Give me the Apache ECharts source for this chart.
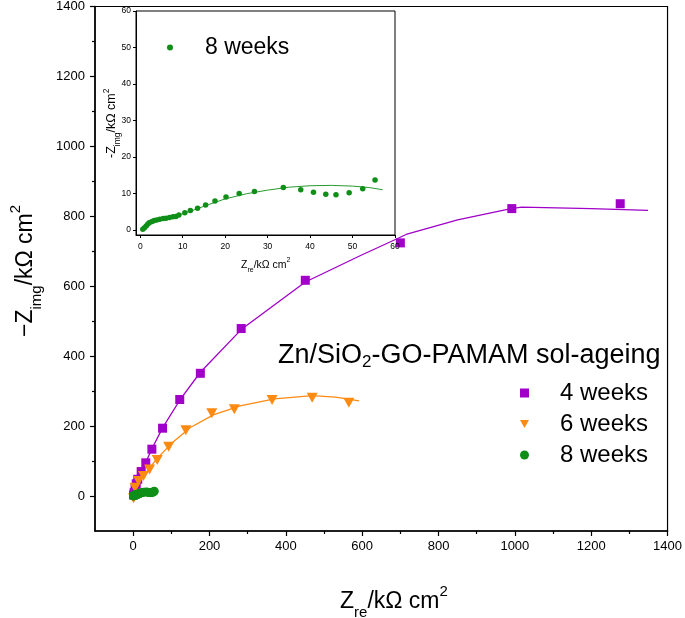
<!DOCTYPE html>
<html><head><meta charset="utf-8">
<script src="https://cdn.jsdelivr.net/npm/echarts@6/dist/echarts.min.js"></script>
<style>html,body{margin:0;padding:0;background:#fff}#c{width:685px;height:618px}</style>
</head><body><div id="c"></div>
<script>
// ---- data ----
const w4Zre  = [1, 2.5, 5, 8, 12, 21, 33, 49, 77, 122, 176, 283, 451, 700, 992, 1276];
const w4Zimg = [3, 10, 22, 35, 48, 70, 95, 134, 194, 276, 351, 479, 617, 724, 822, 836];
const w4FitZre  = [0, 5, 12, 21, 33, 49, 77, 122, 176, 283, 451, 600, 690, 715, 850, 990, 1018, 1200, 1349];
const w4FitZimg = [0, 22, 46, 70, 96, 135, 195, 274, 354, 476, 612, 690, 735, 748, 790, 822, 826, 822, 817];

const w6Zre  = [1, 5, 14, 27, 43, 63, 93, 138, 206, 265, 364, 469, 565];
const w6Zimg = [-6, 24, 43, 57, 76, 103, 141, 188, 237, 248, 275, 281, 267];
const w6FitZre  = [0, 10, 30, 60, 100, 150, 210, 280, 370, 470, 530, 592];
const w6FitZimg = [0, 33, 62, 104, 150, 196, 232, 258, 278, 287, 283, 272];

const w8Zre  = [0.6, 1.0, 1.4, 1.8, 2.2, 2.8, 3.3, 3.9, 4.6, 5.4, 6.1, 6.9, 7.7, 8.4, 9.1, 10.5, 11.8, 13.5, 15.4, 17.6, 20.2, 23.3, 26.9, 33.7, 37.8, 40.8, 43.7, 46.1, 49.2, 52.4, 55.3];
const w8Zimg = [0.2, 0.6, 1.1, 1.6, 2.0, 2.3, 2.6, 2.7, 2.9, 3.1, 3.2, 3.4, 3.6, 3.7, 4.1, 4.7, 5.3, 5.9, 6.8, 7.9, 9.0, 10.0, 10.5, 11.6, 11.0, 10.3, 9.8, 9.6, 10.2, 11.3, 13.7];
const w8FitZre  = [0.6, 2, 4, 8, 12, 16, 20, 25, 30, 35, 40, 45, 50, 54, 57.1];
const w8FitZimg = [0.3, 1.9, 2.8, 3.7, 5.2, 6.9, 8.5, 9.9, 10.9, 11.7, 12.1, 12.2, 12.0, 11.6, 11.0];

const seriesNames = ['4 weeks', '6 weeks', '8 weeks'];
const mainXTicks = [0, 200, 400, 600, 800, 1000, 1200, 1400];
const mainXMinor = [100, 300, 500, 700, 900, 1100, 1300];
const mainYTicks = [0, 200, 400, 600, 800, 1000, 1200, 1400];
const mainYMinor = [100, 300, 500, 700, 900, 1100, 1300];
const insetXTicks = [0, 10, 20, 30, 40, 50, 60];
const insetYTicks = [0, 10, 20, 30, 40, 50, 60];

// ---- helpers ----
const zip = (a, b) => a.map((v, i) => [v, b[i]]);
const FONT = 'Liberation Sans, Arial, sans-serif';
const C4 = '#a000c8', C6 = '#ff8a12', C8 = '#0f8f17';
const BL = '#000';
const plain = v => String(v);
const DOWN_TRI = 'path://M0,0 L10,0 L5,9 Z';

function mainAxis(kind, ticks, minor, gi) {
  const pos = kind === 'x' ? 'bottom' : 'left';
  return [
    {
      type: 'value', gridIndex: gi, min: -100, max: 1400, position: pos,
      axisLine: { show: true, onZero: false, lineStyle: { color: BL, width: 1.5 } },
      axisTick: { show: true, customValues: ticks, length: 5, lineStyle: { color: BL, width: 1.2 } },
      axisLabel: { show: true, customValues: ticks, formatter: plain, color: BL, fontSize: 13, fontFamily: FONT, margin: kind === 'x' ? 9 : 10 },
      splitLine: { show: false }
    },
    {
      type: 'value', gridIndex: gi, min: -100, max: 1400, position: pos,
      axisLine: { show: false, onZero: false },
      axisTick: { show: true, customValues: minor, length: 3, lineStyle: { color: BL, width: 1.2 } },
      axisLabel: { show: false },
      splitLine: { show: false }
    }
  ];
}

const insetX = {
  type: 'value', gridIndex: 1, min: -1, max: 60, z: 9, position: 'bottom',
  axisLine: { show: true, onZero: false, lineStyle: { color: BL, width: 1 } },
  axisTick: { show: true, customValues: insetXTicks, length: 3, lineStyle: { color: BL, width: 1 } },
  axisLabel: { customValues: insetXTicks, formatter: plain, color: BL, fontSize: 8.5, fontFamily: FONT, margin: 7 },
  splitLine: { show: false }
};
const insetY = {
  type: 'value', gridIndex: 1, min: -1.4, max: 60, z: 9, position: 'left',
  axisLine: { show: true, onZero: false, lineStyle: { color: BL, width: 1 } },
  axisTick: { show: true, customValues: insetYTicks, length: 3, lineStyle: { color: BL, width: 1 } },
  axisLabel: { customValues: insetYTicks, formatter: plain, color: BL, fontSize: 8.5, fontFamily: FONT, margin: 5 },
  splitLine: { show: false }
};

const chart = echarts.init(document.getElementById('c'), null, { renderer: 'canvas' });
const option = {
  animation: false,
  backgroundColor: '#fff',
  grid: [
    { left: 95, top: 6, width: 575, height: 525, show: true, borderColor: BL, borderWidth: 1.2, backgroundColor: 'transparent' },
    { left: 136, top: 11, width: 259, height: 224, show: true, borderColor: BL, borderWidth: 1, backgroundColor: '#fff', z: 6 }
  ],
  xAxis: [...mainAxis('x', mainXTicks, mainXMinor, 0), insetX],
  yAxis: [...mainAxis('y', mainYTicks, mainYMinor, 0), insetY],
  legend: [
    {
      data: [
        { name: seriesNames[0], icon: 'rect' },
        { name: seriesNames[1], icon: DOWN_TRI },
        { name: seriesNames[2], icon: 'circle' }
      ],
      orient: 'vertical', left: 520, top: 381,
      itemWidth: 9, itemHeight: 9, itemGap: 7, padding: 0,
      textStyle: { fontSize: 24, color: BL, fontFamily: FONT, padding: [0, 0, 0, 26] },
      selectedMode: false
    },
    {
      data: [{ name: 'inset 8 weeks', icon: 'circle' }],
      orient: 'vertical', left: 167, top: 36,
      itemWidth: 6, itemHeight: 6, padding: 0, z: 10,
      formatter: () => '8 weeks',
      textStyle: { fontSize: 23, color: BL, fontFamily: FONT, padding: [0, 0, 0, 27] },
      selectedMode: false
    }
  ],
  graphic: [
    {
      type: 'text', left: 278, top: 342, z: 20,
      style: {
        text: '{a|Zn/SiO}{s|2}{a|-GO-PAMAM sol-ageing}',
        fill: BL,
        rich: {
          a: { fontSize: 27, fontFamily: FONT, lineHeight: 31, fill: BL },
          s: { fontSize: 17, fontFamily: FONT, lineHeight: 22, verticalAlign: 'bottom', fill: BL }
        }
      }
    },
    {
      type: 'text', left: 340, top: 584, z: 20,
      style: {
        text: '{a|Z}{s|re}{a|/kΩ cm}{p|2}',
        fill: BL,
        rich: {
          a: { fontSize: 23, fontFamily: FONT, lineHeight: 28, fill: BL },
          s: { fontSize: 15, fontFamily: FONT, lineHeight: 18, verticalAlign: 'bottom', fill: BL },
          p: { fontSize: 15, fontFamily: FONT, lineHeight: 36, verticalAlign: 'top', fill: BL }
        }
      }
    },
    {
      type: 'text', x: 8, y: 337, rotation: Math.PI / 2, z: 20,
      style: {
        text: '{a|−Z}{s|img}{a|/kΩ cm}{p|2}',
        fill: BL,
        rich: {
          a: { fontSize: 23, fontFamily: FONT, lineHeight: 28, fill: BL },
          s: { fontSize: 15, fontFamily: FONT, lineHeight: 18, verticalAlign: 'bottom', fill: BL },
          p: { fontSize: 15, fontFamily: FONT, lineHeight: 36, verticalAlign: 'top', fill: BL }
        }
      }
    },
    {
      type: 'text', left: 241, top: 257, z: 20,
      style: {
        text: '{a|Z}{s|re}{a|/kΩ cm}{p|2}',
        fill: BL,
        rich: {
          a: { fontSize: 10.5, fontFamily: FONT, lineHeight: 13, fill: BL },
          s: { fontSize: 7, fontFamily: FONT, lineHeight: 8, verticalAlign: 'bottom', fill: BL },
          p: { fontSize: 7, fontFamily: FONT, lineHeight: 17, verticalAlign: 'top', fill: BL }
        }
      }
    },
    {
      type: 'text', x: 102, y: 158, rotation: Math.PI / 2, z: 20,
      style: {
        text: '{a|-Z}{s|img}{a|/kΩ cm}{p|2}',
        fill: BL,
        rich: {
          a: { fontSize: 12.5, fontFamily: FONT, lineHeight: 15, fill: BL },
          s: { fontSize: 8.5, fontFamily: FONT, lineHeight: 10, verticalAlign: 'bottom', fill: BL },
          p: { fontSize: 8.5, fontFamily: FONT, lineHeight: 20, verticalAlign: 'top', fill: BL }
        }
      }
    }
  ],
  series: [
    { name: '4 weeks fit', type: 'line', xAxisIndex: 0, yAxisIndex: 0, data: zip(w4FitZre, w4FitZimg), symbol: 'none', lineStyle: { color: C4, width: 1.3 }, z: 2 },
    { name: '6 weeks fit', type: 'line', xAxisIndex: 0, yAxisIndex: 0, data: zip(w6FitZre, w6FitZimg), symbol: 'none', lineStyle: { color: C6, width: 1.3 }, z: 2 },
    { name: '8 weeks fit', type: 'line', xAxisIndex: 0, yAxisIndex: 0, data: zip(w8FitZre, w8FitZimg), symbol: 'none', lineStyle: { color: C8, width: 1.3 }, z: 2 },
    { name: '4 weeks', type: 'scatter', xAxisIndex: 0, yAxisIndex: 0, data: zip(w4Zre, w4Zimg), symbol: 'rect', symbolSize: 9, itemStyle: { color: C4, opacity: 1 }, z: 3 },
    { name: '6 weeks', type: 'scatter', xAxisIndex: 0, yAxisIndex: 0, data: zip(w6Zre, w6Zimg), symbol: 'triangle', symbolRotate: 180, symbolSize: [11, 10], itemStyle: { color: C6, opacity: 1 }, z: 4 },
    { name: '8 weeks', type: 'scatter', xAxisIndex: 0, yAxisIndex: 0, data: zip(w8Zre, w8Zimg), symbol: 'circle', symbolSize: 9, itemStyle: { color: C8, opacity: 1 }, z: 5 },
    { name: 'inset 8 weeks fit', type: 'line', xAxisIndex: 2, yAxisIndex: 2, data: zip(w8FitZre, w8FitZimg), symbol: 'none', lineStyle: { color: C8, width: 0.9 }, z: 8 },
    { name: 'inset 8 weeks', type: 'scatter', xAxisIndex: 2, yAxisIndex: 2, data: zip(w8Zre, w8Zimg), symbol: 'circle', symbolSize: 5.5, itemStyle: { color: C8, opacity: 1 }, z: 9 }
  ]
};
chart.setOption(option);
</script>
</body></html>
